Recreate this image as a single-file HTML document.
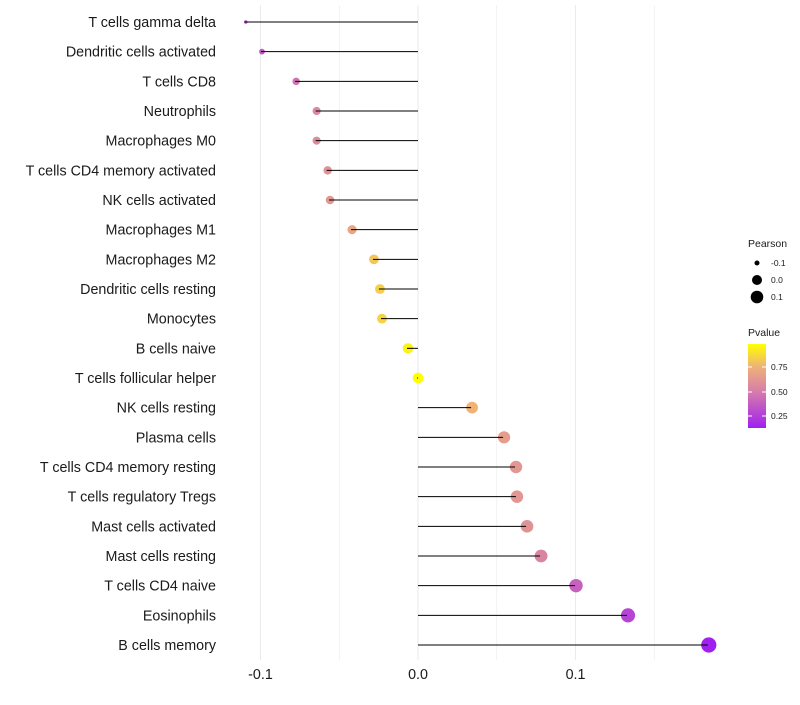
<!DOCTYPE html>
<html><head><meta charset="utf-8"><style>
body{margin:0;background:#fff;font-family:"Liberation Sans",sans-serif}
</style></head><body>
<svg id="chart" width="800" height="700" xmlns="http://www.w3.org/2000/svg"></svg>
<script>
const categories=["T cells gamma delta","Dendritic cells activated","T cells CD8","Neutrophils","Macrophages M0","T cells CD4 memory activated","NK cells activated","Macrophages M1","Macrophages M2","Dendritic cells resting","Monocytes","B cells naive","T cells follicular helper","NK cells resting","Plasma cells","T cells CD4 memory resting","T cells regulatory  Tregs","Mast cells activated","Mast cells resting","T cells CD4 naive","Eosinophils","B cells memory"];
const pearson=[-0.110,-0.0997,-0.078,-0.065,-0.065,-0.058,-0.0565,-0.0425,-0.0286,-0.0248,-0.0235,-0.007,-0.0006,0.0337,0.054,0.0616,0.0622,0.0686,0.0775,0.0997,0.1327,0.184];
const pvalue=[0.3,0.35,0.45,0.55,0.55,0.6,0.62,0.7,0.82,0.85,0.86,0.96,1.0,0.76,0.65,0.62,0.62,0.6,0.52,0.38,0.27,0.13];
const xTicks=[-0.1,0,0.1];
const xTickLabels=["-0.1","0.0","0.1"];
const gridMinor=[-0.05,0.05,0.15];
const svg=document.getElementById('chart');
const NS="http://www.w3.org/2000/svg";
function el(t,a,p){const e=document.createElementNS(NS,t);for(const k in a)e.setAttribute(k,a[k]);(p||svg).appendChild(e);return e;}
const x=v=>418+v*1575;
const y=i=>22+i*(623/21);
const r=v=>1.8+5.8*Math.sqrt(Math.max(0,(v+0.11)/0.294));
function col(p){
 const stops=[[0.13,[160,32,240]],[0.5,[216,128,168]],[0.75,[237,176,122]],[1.0,[255,255,0]]];
 if(p<=stops[0][0])return `rgb(${stops[0][1]})`;
 for(let i=1;i<stops.length;i++){if(p<=stops[i][0]){const a=stops[i-1],b=stops[i],t=(p-a[0])/(b[0]-a[0]);return `rgb(${a[1].map((c,k)=>Math.round(c+(b[1][k]-c)*t)).join(',')})`;}}
 return 'rgb(255,255,0)';
}
gridMinor.forEach(v=>{const g=el('line',{x1:x(v),x2:x(v),y1:5,y2:660,stroke:'#ebebeb','stroke-width':0.6});});
xTicks.forEach((v,i)=>{const g=el('line',{x1:x(v),x2:x(v),y1:5,y2:660,stroke:'#ebebeb','stroke-width':1.1});
 const t=el('text',{x:x(v),y:679,'text-anchor':'middle','font-size':14.3,fill:'#1a1a1a'});t.textContent=xTickLabels[i];});
categories.forEach((c,i)=>{
 const t=el('text',{x:216,y:y(i)+5,'text-anchor':'end','font-size':14.3,fill:'#1a1a1a'});t.textContent=c;
 
 const d=el('circle',{cx:x(pearson[i])+1,cy:y(i),r:r(pearson[i]),fill:col(pvalue[i])});
 
 const l=el('line',{x1:x(0),x2:x(pearson[i]),y1:y(i),y2:y(i),stroke:'#000','stroke-width':1});
 
});
const lg=el('g',{});
let t=el('text',{x:748,y:247,'font-size':10.5,fill:'#1a1a1a'},lg);t.textContent='Pearson';
[[-0.1,263,2.5],[0,280,5],[0.1,297,6.3]].forEach(([v,yy,rr])=>{el('circle',{cx:757,cy:yy,r:rr,fill:'#000'},lg);
 const tt=el('text',{x:771,y:yy+3,'font-size':8.5,fill:'#1a1a1a'},lg);tt.textContent=v===0?'0.0':String(v);});
t=el('text',{x:748,y:336,'font-size':10.5,fill:'#1a1a1a'},lg);t.textContent='Pvalue';
const defs=el('defs',{});const gr=el('linearGradient',{id:'pg',x1:0,y1:0,x2:0,y2:1},defs);
[[0,'rgb(255,255,0)'],[0.28,'rgb(237,176,122)'],[0.55,'rgb(216,128,168)'],[1,'rgb(160,32,240)']].forEach(([o,c])=>el('stop',{offset:o,'stop-color':c},gr));
el('rect',{x:748,y:344,width:18,height:84,fill:'url(#pg)'},lg);
[[0.75,367],[0.5,392],[0.25,416]].forEach(([v,yy])=>{el('line',{x1:748,x2:752,y1:yy,y2:yy,stroke:'#fff'},lg);el('line',{x1:762,x2:766,y1:yy,y2:yy,stroke:'#fff'},lg);
 const tt=el('text',{x:771,y:yy+3,'font-size':8.5,fill:'#1a1a1a'},lg);tt.textContent=v.toFixed(2);});
</script>
</body></html>
